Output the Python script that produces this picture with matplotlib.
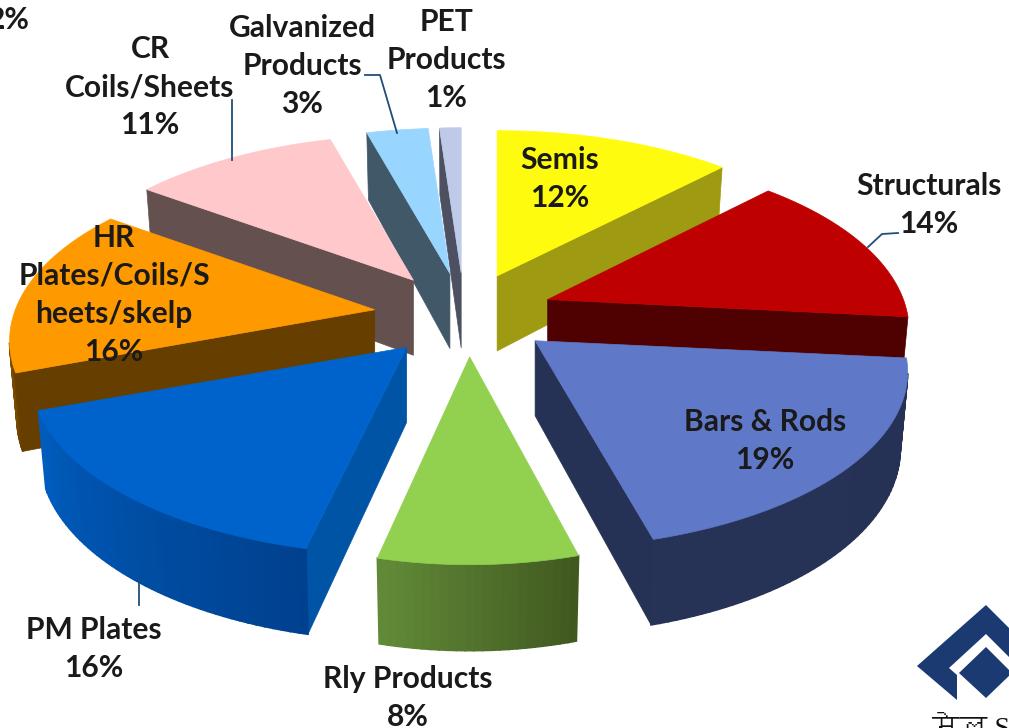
import numpy as np
import matplotlib.pyplot as plt
from matplotlib import font_manager as fm
from matplotlib.colors import to_rgb
from matplotlib.patches import Polygon

# values, clockwise from 12 o'clock
names = ['Semis', 'Structurals', 'Bars & Rods', 'Rly Products', 'PM Plates',
         'HR\nPlates/Coils/S\nheets/skelp', 'CR\nCoils/Sheets',
         'Galvanized\nProducts', 'PET\nProducts']
values = [12, 14, 19, 8, 16, 16, 11, 3, 1]

top_colors = ['#FFFB0F', '#BF0000', '#5F78C8', '#92D050', '#0063CC',
              '#FF9900', '#FFC9CB', '#99D6FF', '#BFC9E8']
side_colors = ['#9E9A12', '#4F0000', '#263255', '#5E8535', '#0054A6',
               '#663E00', '#655050', '#405868', '#4C5060']
wall_start = ['#9E9A12', '#4F0000', '#263255', '#41591F', '#00418F',
              '#663E00', '#655050', '#405868', '#4C5060']
wall_end = ['#9E9A12', '#4F0000', '#273356', '#618A38', '#005DBE',
            '#E08A00', '#655050', '#405868', '#4C5060']
draw_order = [8, 7, 6, 0, 1, 5, 2, 4, 3]
width_scale = [1, 0.98, 1.01, 0.93, 1.015, 0.99, 1, 1, 1]

# label centres in pixels
label_x = [560, 929, 765, 408, 94, 114, 150, 302, 446]
label_y = [179, 205, 441, 698, 649, 295, 87, 66, 60]

# projection of the tilted pie
cx, cy = 464, 315
ex, ey = 90, 42
A, B, k = 363, 171, 0.177
depth = 75


def to_bottom(pt, tip, w):
    return (tip[0] + 0.98 * (pt[0] - tip[0]), pt[1] + depth * w ** -0.7)


def lerp_color(c1, c2, t):
    a, b = np.array(to_rgb(c1)), np.array(to_rgb(c2))
    return tuple(a + (b - a) * t)


def find_family(char):
    # look for an installed font that has this character
    for entry in fm.fontManager.ttflist:
        try:
            if ord(char) in fm.get_font(entry.fname).get_charmap():
                return entry.name
        except Exception:
            pass
    return None


fig = plt.figure(figsize=(10.09, 7.28), dpi=100)
ax = fig.add_axes([0, 0, 1, 1])
ax.set_xlim(0, 1009)
ax.set_ylim(728, 0)
ax.axis('off')

edges = np.cumsum([0] + values) / sum(values) * 2 * np.pi

for i in draw_order:
    mid = (edges[i] + edges[i + 1]) / 2
    tip = (cx + ex * np.sin(mid), cy - ey * np.cos(mid))
    th = np.linspace(edges[i], edges[i + 1], max(values[i] * 3, 4))
    # the picture's perspective bends the angles a little, tapering off at 12 o'clock
    bend = np.sin(th * 0.6) * np.minimum(1, (2 * np.pi - th) / 0.2)
    th_view = th + np.radians(2.5) * bend
    w = 1 + k * np.cos(th_view)
    top = np.column_stack([tip[0] + A * width_scale[i] * np.sin(th_view) / w,
                           tip[1] - B * np.cos(th_view) / w])
    bot = [to_bottom(p, tip, wi) for p, wi in zip(top, w)]
    tip_bot = to_bottom(tip, tip, 1.0)

    # side walls first, only the ones that face the viewer
    for p, q, pb, qb in [(tip, top[0], tip_bot, bot[0]), (top[-1], tip, bot[-1], tip_bot)]:
        if q[0] < p[0]:
            ax.add_patch(Polygon([p, q, qb, pb], fc=side_colors[i], ec=side_colors[i], lw=0.5))
    for j in range(len(th) - 1):
        if top[j + 1][0] < top[j][0]:
            c = lerp_color(wall_start[i], wall_end[i], j / (len(th) - 2))
            ax.add_patch(Polygon([top[j], top[j + 1], bot[j + 1], bot[j]], fc=c, ec=c, lw=1.2))
    ax.add_patch(Polygon([tip] + list(map(tuple, top)), fc=top_colors[i], ec=top_colors[i], lw=0.5))

# leader lines
line_col = '#1F4E79'
ax.plot([232, 232], [100, 160], color=line_col, lw=1.3)
ax.plot([365, 380, 397], [75, 75, 133], color=line_col, lw=1.3)
ax.plot([898, 882, 868], [233, 234, 247], color=line_col, lw=1.3)
ax.plot([139, 139], [580, 605], color=line_col, lw=1.3)

for name, v, x, y in zip(names, values, label_x, label_y):
    ax.text(x, y, f'{name}\n{v}%', ha='center', va='center', family='Lato',
            fontweight='bold', fontsize=21.6, color='#1A1A1A', linespacing=1.44)
ax.text(9, 20, '2%', ha='center', va='center', family='Lato', fontweight='bold',
        fontsize=21.6, color='#1A1A1A')

# logo in the corner
logo_col = '#1B3A72'
ax.add_patch(Polygon([(986, 605), (1040, 659), (1040, 688), (986, 634), (949, 668),
                      (957, 675), (957, 700), (917, 666)], fc=logo_col, ec='none'))
ax.add_patch(Polygon([(986, 647), (1012, 673), (986, 698), (959, 673)], fc=logo_col, ec='none'))

deva = find_family('\u0938')
families = ['Liberation Serif', 'DejaVu Sans'] if deva is None else ['Liberation Serif', deva]
ax.text(932, 736, 'सेल SA', ha='left', va='baseline', family=families,
        fontsize=20, color='#111111')

fig.savefig('out.png', dpi=100)
